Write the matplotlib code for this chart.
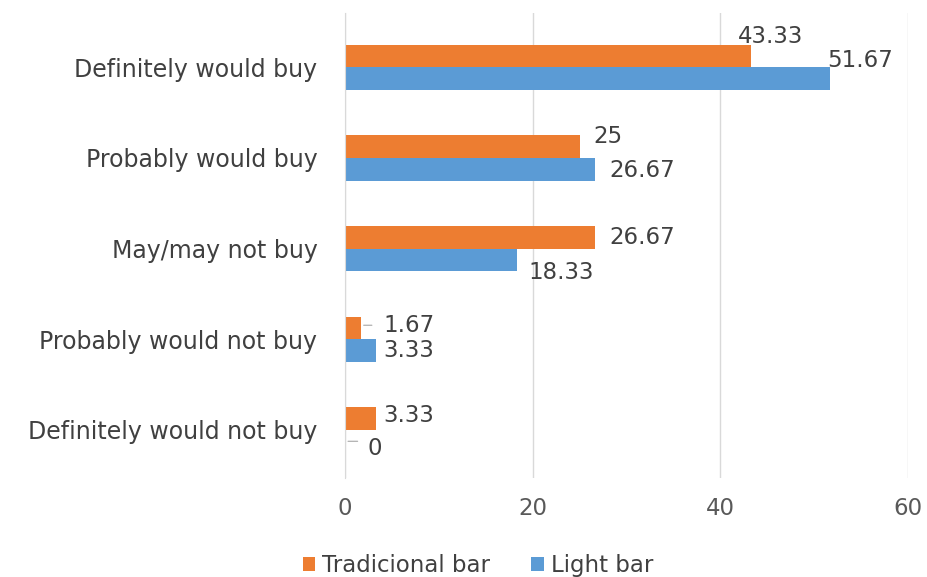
import matplotlib
matplotlib.use("Agg")
import matplotlib.pyplot as plt
import numpy as np

plt.rcParams['font.family'] = ['DejaVu Sans']

categories = ["Definitely would buy", "Probably would buy", "May/may not buy",
              "Probably would not buy", "Definitely would not buy"]
tradicional = [43.33, 25, 26.67, 1.67, 3.33]
light = [51.67, 26.67, 18.33, 3.33, 0]
series_names = ["Tradicional bar", "Light bar"]
xticks = [0, 20, 40, 60]

orange = "#ED7D31"
blue = "#5B9BD5"
text_col = "#404040"
tick_col = "#595959"
fs = 16.5

fig = plt.figure(figsize=(9.28, 5.77), dpi=100)
ax = fig.add_axes([0.372, 0.1716, 0.606, 0.806])

n = len(categories)
y = np.arange(n)[::-1]
h = 0.25
b1 = ax.barh(y + h / 2, tradicional, height=h, color=orange, label=series_names[0])
b2 = ax.barh(y - h / 2, light, height=h, color=blue, label=series_names[1])

ax.set_xlim(0, 60)
ax.set_ylim(-0.53, n - 0.4)
ax.set_xticks(xticks)
ax.set_yticks(y)
ax.set_yticklabels(categories)
ax.tick_params(axis='y', length=0, pad=20, labelsize=17, labelcolor=text_col)
ax.tick_params(axis='x', length=0, pad=14, labelsize=fs, labelcolor=tick_col)
ax.grid(axis='x', color="#D9D9D9", linewidth=1)
ax.set_axisbelow(True)
for s in ['top', 'right', 'bottom']:
    ax.spines[s].set_visible(False)
ax.spines['left'].set_color("#D9D9D9")

# label offsets in points (dx, dy) per bar
off_trad = [(-10, 14), (10, 7), (10, 0), (16, 2), (5, 2)]
off_light = [(-2, 13), (10, -1), (8, -9), (5, 0), (16, -5)]

def fmt(v):
    return f"{v:g}"

for bars, vals, offs in ((b1, tradicional, off_trad), (b2, light, off_light)):
    for rect, v, (dx, dy) in zip(bars, vals, offs):
        yc = rect.get_y() + rect.get_height() / 2
        ax.annotate(fmt(v), xy=(v, yc), xytext=(dx, dy), textcoords='offset points',
                    ha='left', va='center', fontsize=fs, color=text_col,
                    annotation_clip=False)

# tiny leader lines
for v, yc, dx in ((tradicional[3], y[3] + h / 2 + 0.03, 10), (light[4], y[4] - h / 2, 11)):
    ax.annotate("", xy=(v, yc), xytext=(v + dx / 9.43 * 1.39, yc),
                arrowprops=dict(arrowstyle='-', color='#A6A6A6', lw=0.8))

leg = fig.legend(handles=[b1, b2], labels=series_names, loc='center',
                 bbox_to_anchor=(0.515, 0.02), ncol=2, frameon=False,
                 fontsize=fs, handlelength=0.55, handleheight=0.55,
                 handletextpad=0.3, columnspacing=1.8)
for t in leg.get_texts():
    t.set_color(text_col)

fig.savefig("out.png", dpi=100)
